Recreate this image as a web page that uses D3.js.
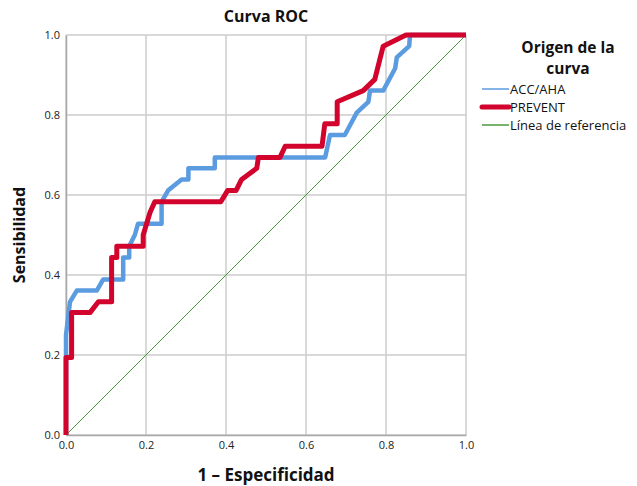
<!DOCTYPE html>
<html>
<head>
<meta charset="utf-8">
<script src="https://cdn.jsdelivr.net/npm/d3@7"></script>
<style>
  html, body { margin: 0; padding: 0; background: #fff; }
  svg { display: block; font-family: "Open Sans", "DejaVu Sans", sans-serif; }
</style>
</head>
<body>
<svg id="chart" width="637" height="486"></svg>
<script>
// ROC curve points (1 - specificity, sensitivity)
const accAhaX = [0, 0, 0.01, 0.027, 0.077, 0.093, 0.143, 0.143, 0.158, 0.158, 0.172, 0.18, 0.239, 0.239, 0.255, 0.289, 0.306, 0.306, 0.372, 0.372, 0.648, 0.66, 0.697, 0.727, 0.756, 0.76, 0.793, 0.823, 0.827, 0.858, 0.86, 1];
const accAhaY = [0, 0.25, 0.333, 0.361, 0.361, 0.389, 0.389, 0.444, 0.444, 0.472, 0.5, 0.528, 0.528, 0.583, 0.611, 0.639, 0.639, 0.667, 0.667, 0.694, 0.694, 0.75, 0.75, 0.806, 0.833, 0.861, 0.861, 0.917, 0.944, 0.972, 1, 1];

const preventX = [0, 0, 0.014, 0.014, 0.06, 0.081, 0.114, 0.114, 0.127, 0.127, 0.193, 0.193, 0.21, 0.222, 0.387, 0.404, 0.425, 0.439, 0.477, 0.481, 0.535, 0.548, 0.64, 0.647, 0.678, 0.678, 0.743, 0.772, 0.793, 0.85, 1];
const preventY = [0, 0.194, 0.194, 0.306, 0.306, 0.333, 0.333, 0.444, 0.444, 0.472, 0.472, 0.5, 0.556, 0.583, 0.583, 0.611, 0.611, 0.639, 0.667, 0.694, 0.694, 0.722, 0.722, 0.778, 0.778, 0.833, 0.861, 0.889, 0.972, 1, 1];

const referenceX = [0, 1];
const referenceY = [0, 1];

const tickValues = [0, 0.2, 0.4, 0.6, 0.8, 1.0];
const seriesNames = ["ACC/AHA", "PREVENT", "Línea de referencia"];
const seriesColors = ["#5b9be0", "#d2042d", "#4a9a3c"];

const svg = d3.select("#chart");
const plot = { left: 66, right: 466, top: 35, bottom: 435 };

const x = d3.scaleLinear().domain([0, 1]).range([plot.left, plot.right]);
const y = d3.scaleLinear().domain([0, 1]).range([plot.bottom, plot.top]);

// gridlines
const grid = svg.append("g");
grid.selectAll("line.v").data(tickValues).enter().append("line")
  .attr("x1", d => x(d)).attr("x2", d => x(d))
  .attr("y1", plot.top).attr("y2", plot.bottom)
  .attr("stroke", "#cdcdcd").attr("stroke-width", 1.5);
grid.selectAll("line.h").data(tickValues).enter().append("line")
  .attr("y1", d => y(d)).attr("y2", d => y(d))
  .attr("x1", plot.left).attr("x2", plot.right)
  .attr("stroke", "#cdcdcd").attr("stroke-width", 1.5);

// axes
const fmt = d3.format(".1f");
const xAxis = svg.append("g")
  .attr("transform", `translate(0,${plot.bottom})`)
  .call(d3.axisBottom(x).tickValues(tickValues).tickFormat(fmt).tickSize(0).tickPadding(6));
const yAxis = svg.append("g")
  .attr("transform", `translate(${plot.left},0)`)
  .call(d3.axisLeft(y).tickValues(tickValues).tickFormat(fmt).tickSize(0).tickPadding(6));
[xAxis, yAxis].forEach(a => {
  a.select(".domain").attr("stroke", "#a8a8a8").attr("stroke-width", 1.5);
  a.selectAll("text").attr("font-size", 11).attr("fill", "#222")
    .attr("font-family", "'Open Sans', sans-serif");
});

// curves
const line = d3.line().x(d => x(d[0])).y(d => y(d[1]));
const refPts = referenceX.map((v, i) => [v, referenceY[i]]);
const accPts = accAhaX.map((v, i) => [v, accAhaY[i]]);
const prevPts = preventX.map((v, i) => [v, preventY[i]]);

svg.append("path").datum(refPts).attr("d", line)
  .attr("fill", "none").attr("stroke", seriesColors[2]).attr("stroke-width", 1);
svg.append("path").datum(accPts).attr("d", line)
  .attr("fill", "none").attr("stroke", seriesColors[0]).attr("stroke-width", 4.5)
  .attr("stroke-linejoin", "round");
svg.append("path").datum(prevPts).attr("d", line)
  .attr("fill", "none").attr("stroke", seriesColors[1]).attr("stroke-width", 5)
  .attr("stroke-linejoin", "round");

// titles
svg.append("text").attr("x", (plot.left + plot.right) / 2).attr("y", 22)
  .attr("text-anchor", "middle").attr("font-size", 16).attr("font-weight", "bold")
  .attr("fill", "#111").text("Curva ROC");
svg.append("text").attr("x", (plot.left + plot.right) / 2).attr("y", 481)
  .attr("text-anchor", "middle").attr("font-size", 17).attr("font-weight", "bold")
  .attr("fill", "#111").text("1 – Especificidad");
svg.append("text").attr("transform", `translate(25,${(plot.top + plot.bottom) / 2}) rotate(-90)`)
  .attr("text-anchor", "middle").attr("font-size", 16).attr("font-weight", "bold")
  .attr("fill", "#111").text("Sensibilidad");

// legend
const lg = svg.append("g");
lg.append("text").attr("x", 568).attr("y", 53).attr("text-anchor", "middle")
  .attr("font-size", 15.5).attr("font-weight", "bold").attr("fill", "#111").text("Origen de la");
lg.append("text").attr("x", 568).attr("y", 74).attr("text-anchor", "middle")
  .attr("font-size", 15.5).attr("font-weight", "bold").attr("fill", "#111").text("curva");
const widths = [1.5, 5, 1.5];
seriesNames.forEach((name, i) => {
  const yy = 89 + i * 18;
  lg.append("line").attr("x1", 482).attr("x2", 509).attr("y1", yy).attr("y2", yy)
    .attr("stroke", seriesColors[i]).attr("stroke-width", widths[i])
    .attr("stroke-linecap", i === 1 ? "round" : "butt");
  lg.append("text").attr("x", 510).attr("y", yy + 5).attr("font-size", 13)
    .attr("fill", "#111").text(name);
});
</script>
</body>
</html>
